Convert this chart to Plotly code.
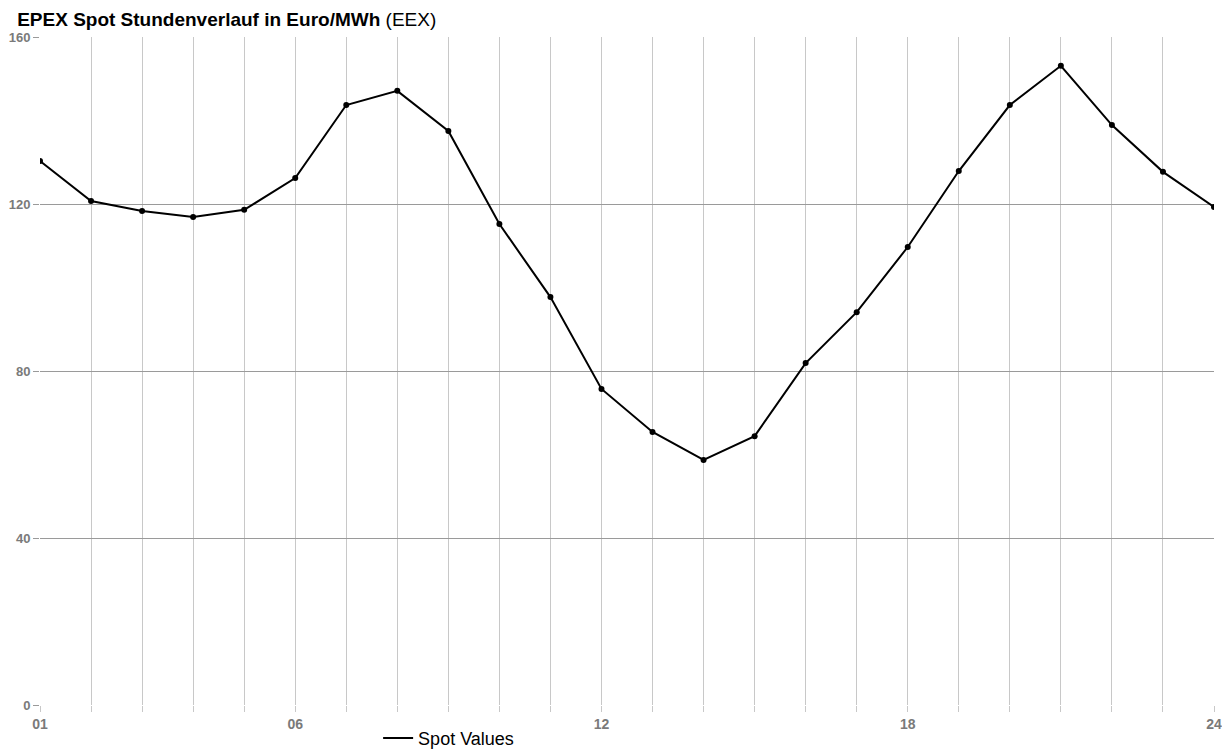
import plotly.graph_objects as go

hours = [f"{h:02d}" for h in range(1, 25)]
spot_values = [130.3, 120.7, 118.3, 116.9, 118.6, 126.2, 143.7, 147.1, 137.5, 115.2,
               97.7, 75.7, 65.4, 58.7, 64.4, 81.9, 94.1, 109.7, 127.9, 143.7,
               153.1, 138.9, 127.7, 119.3]
labeled_hours = ["01", "06", "12", "18", "24"]
y_ticks = [0, 40, 80, 120, 160]

tick_text = [f"<b>{h}</b>" if h in labeled_hours else "" for h in hours]
y_tick_text = [f"<b>{v}</b>" for v in y_ticks]

FONT = "Liberation Sans, Arial, sans-serif"

fig = go.Figure()
fig.add_trace(go.Scatter(
    x=hours, y=spot_values, mode="lines+markers", name="Spot Values",
    line=dict(color="black", width=2),
    marker=dict(color="black", size=6),
    showlegend=False,
))
# legend-only entry (line symbol without marker, as in the reference)
fig.add_trace(go.Scatter(
    x=[None], y=[None], mode="lines", name="Spot Values",
    line=dict(color="black", width=2), showlegend=True,
))

fig.update_layout(
    width=1222, height=747,
    margin=dict(l=32, r=16, t=29, b=50, autoexpand=False),
    paper_bgcolor="white", plot_bgcolor="white",
    font=dict(family=FONT, color="#7a7a7a"),
    title=dict(text="<b>EPEX Spot Stundenverlauf in Euro/MWh</b> (EEX)",
               x=0.0075, xanchor="left", y=0.9853, yanchor="middle",
               font=dict(size=19, color="black", family=FONT)),
    showlegend=True,
    legend=dict(orientation="h", x=0.288, xanchor="left", y=-0.022, yanchor="top",
                font=dict(size=18, color="black", family=FONT)),
    xaxis=dict(type="category", range=[0, 23], tickmode="array", tickvals=hours,
               ticktext=tick_text, showgrid=True, gridcolor="#c8c8c8", gridwidth=1,
               ticks="outside", ticklen=6, tickcolor="#c8c8c8", automargin=False,
               showline=False, zeroline=False,
               tickfont=dict(size=14, color="#7a7a7a", family=FONT)),
    yaxis=dict(range=[0, 160], tickmode="array", tickvals=y_ticks, ticktext=y_tick_text,
               showgrid=True, gridcolor="#9a9a9a", gridwidth=1,
               ticks="outside", ticklen=6, tickcolor="#9a9a9a", automargin=False,
               showline=False, zeroline=False,
               tickfont=dict(size=13, color="#7a7a7a", family=FONT)),
)

fig.write_html("out.html")
